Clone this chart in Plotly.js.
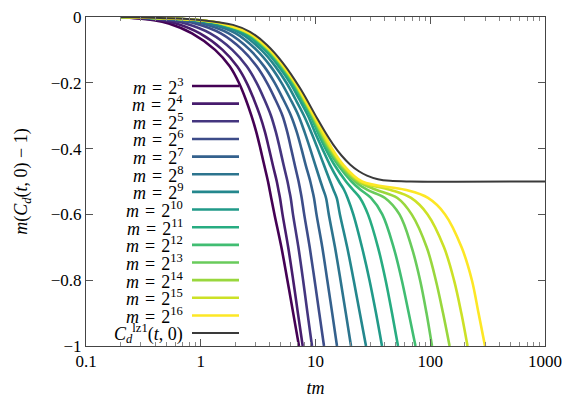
<!DOCTYPE html>
<html>
<head>
<meta charset="utf-8">
<script src="https://cdn.plot.ly/plotly-3.0.1.min.js"></script>
<style>
  html, body { margin: 0; padding: 0; background: #fff; }
  #chart { width: 577px; height: 404px; }
  #chart svg text { font-family: "Liberation Serif", "Times New Roman", serif !important; }
</style>
</head>
<body>
<div id="chart"></div>
<script>
const levels = [0, -0.01, -0.02, -0.05, -0.1, -0.15, -0.2, -0.25, -0.3, -0.35, -0.4, -0.45,
                -0.5, -0.525, -0.55, -0.6, -0.7, -0.8, -0.9, -1];

// tm at each of those levels, one array per m = 2^k
const tm03 = [0.202, 0.391, 0.526, 0.839, 1.334, 1.788, 2.150, 2.465, 2.763, 3.049, 3.310, 3.572, 3.856, 3.981, 4.111, 4.391, 5.045, 5.690, 6.393, 7.180];
const tm04 = [0.202, 0.445, 0.609, 0.983, 1.550, 2.074, 2.514, 2.900, 3.283, 3.630, 3.934, 4.245, 4.599, 4.750, 4.905, 5.158, 5.782, 6.393, 7.024, 7.735];
const tm05 = [0.202, 0.526, 0.735, 1.209, 1.883, 2.514, 3.067, 3.579, 4.095, 4.517, 4.895, 5.272, 5.702, 5.888, 6.081, 6.366, 7.096, 7.798, 8.516, 9.322];
const tm06 = [0.202, 0.626, 0.895, 1.495, 2.307, 3.073, 3.779, 4.455, 5.158, 5.678, 6.129, 6.600, 7.124, 7.356, 7.583, 7.971, 8.903, 9.822, 10.79, 11.86];
const tm07 = [0.202, 0.712, 1.034, 1.752, 2.681, 3.565, 4.409, 5.231, 6.117, 6.871, 7.538, 8.214, 9.010, 9.359, 9.703, 10.20, 11.46, 12.67, 13.98, 15.39];
const tm08 = [0.202, 0.796, 1.175, 2.016, 3.055, 4.062, 5.055, 6.044, 7.111, 8.035, 8.975, 9.961, 11.06, 11.70, 12.35, 13.06, 14.79, 16.52, 18.37, 20.39];
const tm09 = [0.202, 0.865, 1.291, 2.229, 3.363, 4.464, 5.577, 6.694, 7.940, 9.174, 10.45, 11.84, 13.43, 14.32, 15.30, 16.32, 18.89, 21.52, 24.33, 27.55];
const tm10 = [0.202, 0.918, 1.382, 2.402, 3.609, 4.787, 6.007, 7.224, 8.603, 9.881, 11.46, 13.38, 16.03, 17.72, 19.04, 21.35, 25.42, 29.55, 33.67, 37.97];
const tm11 = [0.202, 0.954, 1.442, 2.519, 3.772, 5.004, 6.279, 7.583, 9.046, 10.45, 12.22, 14.64, 18.44, 21.22, 24.43, 28.67, 35.05, 40.83, 46.42, 52.36];
const tm12 = [0.202, 0.967, 1.469, 2.566, 3.840, 5.086, 6.393, 7.719, 9.228, 10.73, 12.72, 15.71, 20.59, 24.67, 30.45, 38.20, 47.93, 56.50, 64.90, 74.38];
const tm13 = [0.202, 0.983, 1.492, 2.612, 3.910, 5.179, 6.509, 7.876, 9.417, 11.01, 13.11, 16.35, 22.09, 28.11, 40.34, 53.95, 68.91, 81.55, 92.75, 103.6];
const tm14 = [0.202, 0.989, 1.504, 2.638, 3.941, 5.221, 6.575, 7.956, 9.511, 11.21, 13.38, 16.85, 23.47, 33.67, 51.72, 68.91, 93.13, 111.8, 129.2, 147.4];
const tm15 = [0.202, 0.997, 1.519, 2.660, 3.981, 5.272, 6.628, 8.019, 9.607, 11.37, 13.65, 17.19, 24.43, 44.59, 68.09, 94.82, 131.8, 161.1, 186.5, 211.2];
const tm16 = [0.202, 1.005, 1.532, 2.687, 4.013, 5.315, 6.694, 8.100, 9.703, 11.70, 13.93, 17.54, 25.42, 60.26, 95.59, 134.7, 187.6, 230.7, 263.4, 300.1];

const exponents = [3, 4, 5, 6, 7, 8, 9, 10, 11, 12, 13, 14, 15, 16];
const tmCurves = [tm03, tm04, tm05, tm06, tm07, tm08, tm09, tm10, tm11, tm12, tm13, tm14, tm15, tm16];

// limiting curve C_d^lz1(t,0)
const lzTm = [0.2, 0.44, 0.985, 1.91, 2.69, 3.78, 5.21, 7.33, 10.3, 12.1, 14.21, 16.85, 19.99, 23.7, 28.1, 35.05, 44.59, 66.6, 1000];
const lzVal = [0, -0.003, -0.009, -0.024, -0.045, -0.085, -0.14, -0.216, -0.307, -0.349, -0.387, -0.421, -0.448, -0.468, -0.482, -0.493, -0.498, -0.5, -0.5];

const colors = ['#440154', '#471c6d', '#44357f', '#3d4c89', '#34618d', '#2c748e', '#24878d',
                '#219a89', '#27ac81', '#41bd72', '#69cb5b', '#99d73d', '#cce126', '#fde725'];
const lzColor = '#3a3a3a';

const font = 'Liberation Serif';

const data = tmCurves.map(function(tm, i) {
  return {
    x: tm, y: levels, type: 'scatter', mode: 'lines',
    line: { color: colors[i], width: 2.6, shape: 'spline', smoothing: 1 },
    showlegend: false, hoverinfo: 'skip'
  };
});
data.push({
  x: lzTm, y: lzVal, type: 'scatter', mode: 'lines',
  line: { color: lzColor, width: 2, shape: 'spline', smoothing: 1 },
  showlegend: false, hoverinfo: 'skip'
});

// key drawn gnuplot style: label right-aligned, sample line to its right
const W = 577, H = 404;
const mar = { l: 86, r: 32, t: 17, b: 58 };
const pw = W - mar.l - mar.r, ph = H - mar.t - mar.b;
const keyTop = 86, keyStep = 17.65;
const keyText = 185, keyL = 192, keyR = 239;
const labels = exponents.map(function(k) { return '<i>m</i>\u2004=\u20042<sup>' + k + '</sup>'; });
labels.push('<i>C</i><sub><i>d</i></sub><sup>lz1</sup>(<i>t</i>, 0)');
const keyColors = colors.concat([lzColor]);

const annotations = [], shapes = [];
labels.forEach(function(lab, i) {
  const yp = (mar.t + ph - (keyTop + keyStep * i)) / ph;
  annotations.push({
    xref: 'paper', yref: 'paper', x: (keyText - mar.l) / pw, y: yp,
    xanchor: 'right', yanchor: 'middle', showarrow: false, text: lab,
    font: { family: font, size: 18, color: '#000' }
  });
  shapes.push({
    type: 'line', xref: 'paper', yref: 'paper',
    x0: (keyL - mar.l) / pw, x1: (keyR - mar.l) / pw, y0: yp, y1: yp,
    line: { color: keyColors[i], width: i < 14 ? 2.6 : 2 }
  });
});

const layout = {
  width: W, height: H,
  margin: mar,
  paper_bgcolor: '#fff', plot_bgcolor: '#fff',
  font: { family: font, size: 17, color: '#000' },
  xaxis: {
    type: 'log', range: [-1, 3],
    dtick: 1, exponentformat: 'none',
    tickfont: { family: font, size: 17 },
    ticks: 'inside', ticklen: 7, tickcolor: '#555',
    minor: { ticks: 'inside', ticklen: 4, tickcolor: '#888', dtick: 'D1' },
    showline: true, linecolor: '#444', linewidth: 1, mirror: 'ticks',
    showgrid: false, zeroline: false,
    title: { text: '<i>tm</i>', font: { family: font, size: 18 }, standoff: 10 }
  },
  yaxis: {
    range: [-1, 0], tickvals: [0, -0.2, -0.4, -0.6, -0.8, -1],
    ticktext: ['0', '\u22120.2', '\u22120.4', '\u22120.6', '\u22120.8', '\u22121'],
    tickfont: { family: font, size: 17 },
    ticks: 'inside', ticklen: 7, tickcolor: '#555',
    showline: true, linecolor: '#444', linewidth: 1, mirror: 'ticks',
    showgrid: false, zeroline: false,
    title: { text: '<i>m</i>(<i>C<sub>d</sub></i>(<i>t</i>, 0) \u2212 1)', font: { family: font, size: 18 }, standoff: 18 }
  },
  annotations: annotations,
  shapes: shapes
};

Plotly.newPlot(document.getElementById('chart'), data, layout, { staticPlot: true });
</script>
</body>
</html>
